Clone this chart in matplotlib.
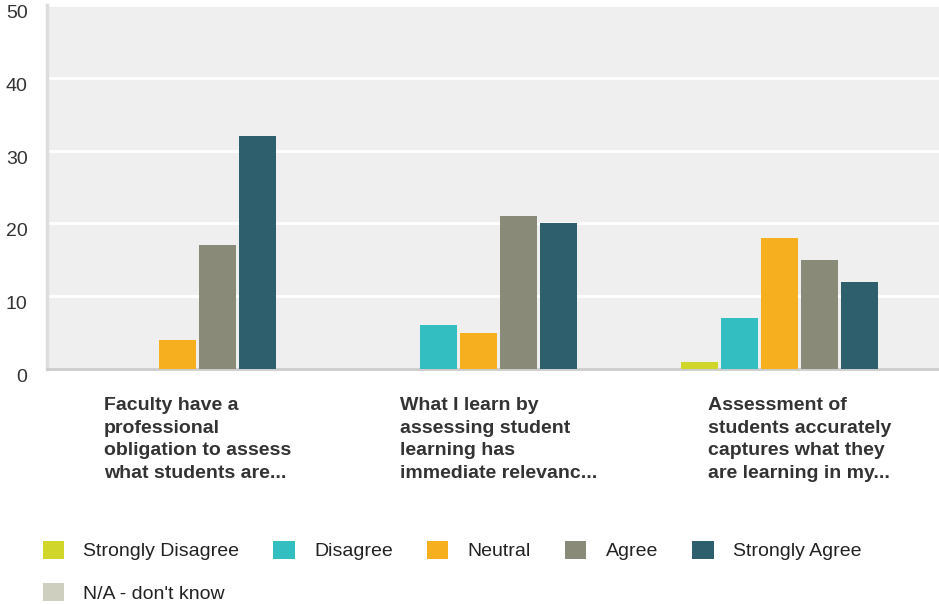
import matplotlib.pyplot as plt
import numpy as np
from matplotlib.patches import Patch

plt.rcParams['font.family'] = ['Liberation Sans', 'DejaVu Sans']

# Data
questions = ['Faculty have a\nprofessional\nobligation to assess\nwhat students are...',
             'What I learn by\nassessing student\nlearning has\nimmediate relevanc...',
             'Assessment of\nstudents accurately\ncaptures what they\nare learning in my...']
answers = ['Strongly Disagree', 'Disagree', 'Neutral', 'Agree', 'Strongly Agree', "N/A - don't know"]
strongly_disagree = [0, 0, 1]
disagree = [0, 6, 7]
neutral = [4, 5, 18]
agree = [17, 21, 15]
strongly_agree = [32, 20, 12]
na_dont_know = [0, 0, 0]
series = [strongly_disagree, disagree, neutral, agree, strongly_agree, na_dont_know]
colors = ['#d0d62a', '#33bec1', '#f6af1e', '#8a8a79', '#2e5f6d', '#cfcfbf']
yticks = [0, 10, 20, 30, 40, 50]

fig = plt.figure(figsize=(9.39, 6.04), dpi=100)
ax = fig.add_axes([47 / 939, 1 - 369 / 604, 1 - 47 / 939, (369 - 5) / 604])
ax.set_facecolor('#efefef')

x = np.arange(len(questions))
group_px = 301
step = 40 / group_px
width = 37 / group_px
for i, (vals, c) in enumerate(zip(series, colors)):
    ax.bar(x + (i - 2.5) * step, vals, width=width, color=c, label=answers[i], zorder=3)

ax.set_xlim(-0.5, -0.5 + 892 / group_px)
ax.set_ylim(0, 50)
ax.set_yticks(yticks)
ax.set_yticklabels([str(t) for t in yticks], fontsize=14, color='#333333', va='top')
ax.tick_params(axis='y', length=0, pad=14)
ax.grid(axis='y', color='white', linewidth=2, zorder=1)

ax.set_xticks(x)
ax.set_xticklabels(questions, fontsize=14, fontweight='bold', color='#333333',
                   multialignment='left', linespacing=1.45)
ax.tick_params(axis='x', length=0, pad=20)

for s in ['top', 'right']:
    ax.spines[s].set_visible(False)
ax.spines['left'].set_color('#dddddd')
ax.spines['left'].set_linewidth(2.5)
ax.spines['bottom'].set_color('#cccccc')
ax.spines['bottom'].set_linewidth(2)

# legend fills column by column, so reorder to get row-wise layout
order = [0, 5, 1, 2, 3, 4]
handles = [Patch(facecolor=colors[i], edgecolor='none') for i in order]
labels = [answers[i] for i in order]
fig.legend(handles, labels, loc='upper left', bbox_to_anchor=(25 / 939, 1 - 523 / 604),
           ncol=5, frameon=False, fontsize=14, handlelength=1.1, handleheight=1.1,
           handletextpad=1.0, columnspacing=1.75, labelspacing=1.15, labelcolor='#222222')

fig.savefig('out.png', dpi=100)
